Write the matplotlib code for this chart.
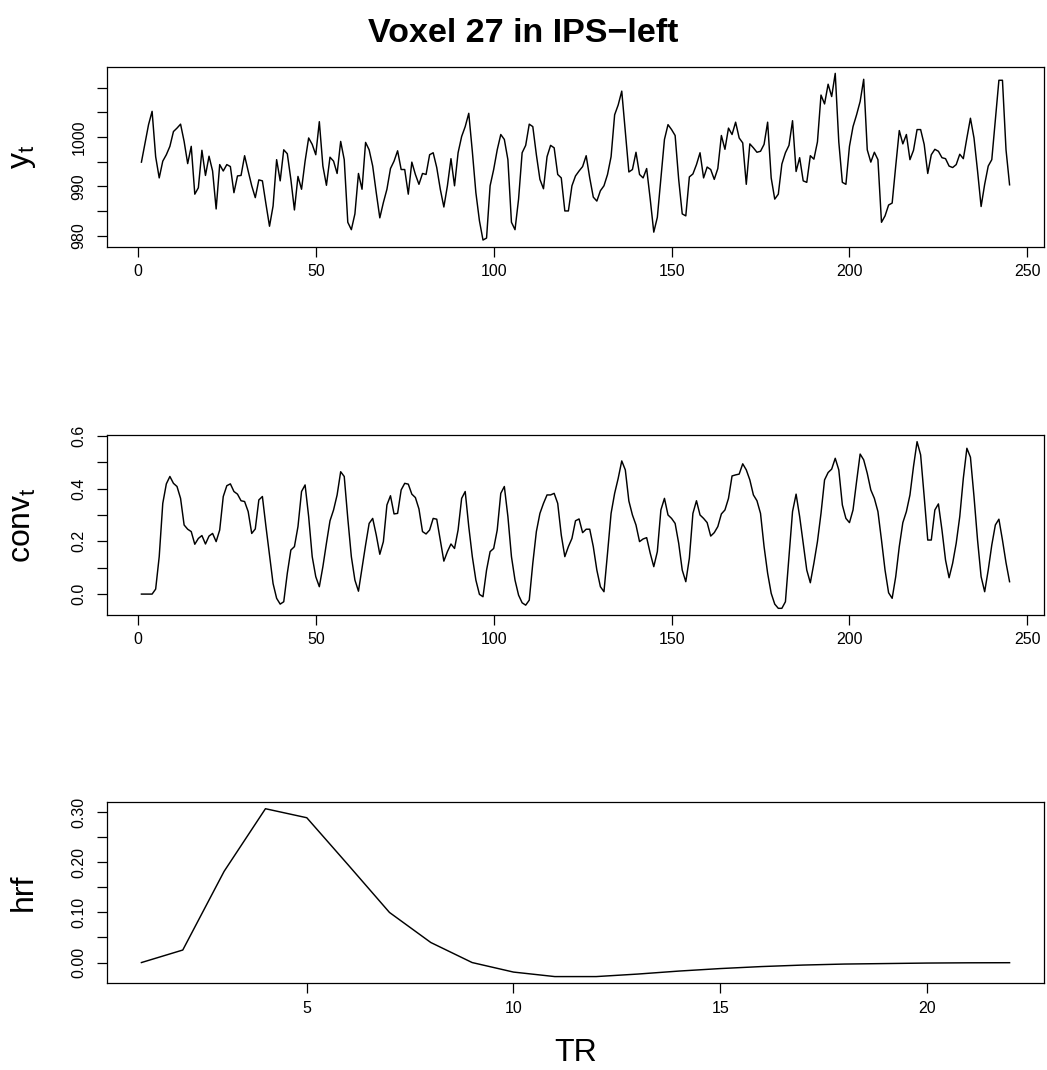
"""
Voxel time series panel: raw signal, convolved regressor and HRF.
"""

import matplotlib
matplotlib.use('Agg')
import matplotlib.pyplot as plt

plt.rcParams['font.family'] = ['Liberation Sans', 'DejaVu Sans']
plt.rcParams['mathtext.fontset'] = 'custom'
plt.rcParams['mathtext.rm'] = 'Liberation Sans'
plt.rcParams['mathtext.it'] = 'Liberation Sans'

# Raw BOLD signal of the voxel (245 TRs)
y_t = [
    994.9, 998.7, 1002.5, 1005.2, 996.0, 991.7, 995.1, 996.4, 998.1, 1001.1,
    1001.8, 1002.6, 999.1, 994.6, 998.1, 988.4, 989.7, 997.3, 992.2, 996.1,
    993.1, 985.4, 994.4, 993.1, 994.4, 994.0, 988.7, 992.1, 992.2, 996.2,
    993.1, 990.1, 987.7, 991.3, 991.1, 986.4, 981.9, 986.0, 995.4, 991.1,
    997.4, 996.6, 991.4, 985.2, 992.0, 989.4, 995.1, 999.8, 998.5, 996.4,
    1003.1, 994.1, 990.2, 995.9, 995.1, 992.6,
    999.1, 995.4, 982.7, 981.2, 984.4, 992.6, 989.4, 998.9, 997.4, 994.1,
    988.7, 983.6, 986.7, 989.4, 993.6, 995.1, 997.2, 993.4, 993.4, 988.4,
    994.9, 992.4, 990.4, 992.6, 992.4, 996.4, 996.8, 993.8, 989.4, 985.8,
    990.1, 995.6, 990.1, 996.8, 1000.1, 1002.1, 1004.8, 997.1, 988.7, 983.0,
    979.1, 979.5, 990.1, 993.4, 997.4, 1000.5, 999.5, 995.4, 982.7, 981.2,
    987.4, 996.8, 998.3, 1002.6, 1002.1, 996.4, 991.4, 989.5, 996.0, 998.3,
    997.8, 992.4, 991.7, 985.0, 985.0,
    990.1, 992.1, 993.1, 994.0, 996.2, 991.7, 987.8, 987.0, 989.1, 990.1,
    992.4, 996.0, 1004.5, 1006.5, 1009.3, 1001.1, 992.9, 993.4, 996.9, 992.4,
    991.7, 993.6, 987.4, 980.7, 983.7, 991.7, 999.5, 1002.5, 1001.5, 1000.3,
    991.4, 984.4, 984.0, 991.9, 992.5, 994.4, 996.8, 991.7, 993.9, 993.4,
    991.4, 993.6, 1000.3, 997.5, 1001.8, 1000.5, 1003.0, 999.8, 998.8, 990.4,
    998.6, 997.8, 996.9, 997.1, 998.5, 1003.0, 991.7, 987.4, 988.4, 994.5,
    996.8, 998.3, 1003.3, 993.0, 995.8,
    991.1, 990.8, 996.2, 995.5, 999.0, 1008.5, 1006.7, 1010.7, 1008.2, 1012.9,
    999.0, 990.8, 990.4, 998.1, 1002.1, 1004.5, 1007.2, 1011.7, 997.4, 994.9,
    996.9, 995.4, 982.7, 984.0, 986.2, 986.6, 994.1, 1001.3, 998.6, 1000.5,
    995.4, 997.3, 1001.5, 1001.5, 998.5, 992.6, 996.4, 997.5, 997.1, 995.8,
    995.6, 994.1, 993.8, 994.4, 996.5, 995.6, 999.8, 1003.8, 999.8, 993.1,
    985.9, 990.4, 994.1, 995.4, 1003.5, 1011.5, 1011.5, 997.4, 990.3,
]

# Stimulus regressor convolved with the HRF
conv_t = [
    0.0, 0.0, 0.0, 0.0, 0.019, 0.142, 0.344, 0.418, 0.446, 0.42,
    0.408, 0.363, 0.262, 0.246, 0.237, 0.189, 0.211, 0.222, 0.19, 0.22,
    0.23, 0.199, 0.243, 0.37, 0.411, 0.418, 0.389, 0.379, 0.354, 0.351,
    0.313, 0.23, 0.247, 0.357, 0.37, 0.256, 0.148, 0.04, -0.016, -0.038,
    -0.029, 0.079, 0.167, 0.18, 0.256, 0.389, 0.414, 0.294, 0.142, 0.066,
    0.028, 0.104, 0.193, 0.278, 0.319, 0.376, 0.464,
    0.446, 0.287, 0.142, 0.053, 0.011, 0.098, 0.186, 0.268, 0.287, 0.224,
    0.151, 0.199, 0.338, 0.373, 0.304, 0.306, 0.395, 0.42, 0.417, 0.379,
    0.366, 0.323, 0.237, 0.228, 0.243, 0.287, 0.284, 0.205, 0.125, 0.161,
    0.19, 0.173, 0.243, 0.363, 0.389, 0.256, 0.142, 0.053, -0.001, -0.01,
    0.091, 0.161, 0.173, 0.243, 0.382, 0.408, 0.294, 0.142, 0.053, -0.004,
    -0.033, -0.042, -0.023, 0.117, 0.237, 0.306, 0.344, 0.376, 0.376, 0.382,
    0.344, 0.224, 0.142, 0.18,
    0.211, 0.278, 0.285, 0.233, 0.246, 0.246, 0.18, 0.091, 0.028, 0.009,
    0.155, 0.306, 0.382, 0.439, 0.505, 0.471, 0.353, 0.3, 0.262, 0.199,
    0.209, 0.214, 0.155, 0.104, 0.161, 0.319, 0.363, 0.3, 0.287, 0.268,
    0.193, 0.091, 0.047, 0.136, 0.306, 0.354, 0.3, 0.287, 0.271, 0.22,
    0.233, 0.256, 0.304, 0.319, 0.363, 0.448, 0.452, 0.455, 0.494, 0.471,
    0.433, 0.376, 0.354, 0.306, 0.18, 0.079, 0.003, -0.038, -0.054, -0.054,
    -0.029, 0.142, 0.313, 0.379, 0.294,
    0.193, 0.091, 0.043, 0.117, 0.199, 0.306, 0.433, 0.461, 0.474, 0.515,
    0.471, 0.338, 0.287, 0.271, 0.319, 0.427, 0.531, 0.509, 0.458, 0.395,
    0.363, 0.313, 0.205, 0.091, 0.005, -0.016, 0.066, 0.18, 0.271, 0.313,
    0.376, 0.484, 0.578, 0.528, 0.37, 0.205, 0.205, 0.319, 0.342, 0.243,
    0.129, 0.062, 0.117, 0.193, 0.294, 0.439, 0.553, 0.519, 0.37, 0.205,
    0.066, 0.009, 0.091, 0.186, 0.262, 0.284, 0.205, 0.119, 0.047,
]

# Haemodynamic response function sampled per TR
hrf = [
    0.0, 0.025, 0.182, 0.307, 0.289, 0.195, 0.10, 0.04, 0.0, -0.019,
    -0.028, -0.028, -0.023, -0.017, -0.012, -0.008, -0.005, -0.003, -0.002,
    -0.001, -0.0005, -0.0003,
]

title = "Voxel 27 in IPS\u2212left"

W, H = 1047, 1070
fig = plt.figure(figsize=(W / 100, H / 100), dpi=100)


def px_axes(left, top, right, bottom):
    """Add axes given pixel edges of the plot box."""
    return fig.add_axes([left / W, 1 - bottom / H, (right - left) / W, (bottom - top) / H])


def style(ax, xticks, yticks, ylabels, ylabel):
    ax.margins(x=0.04, y=0.04)
    ax.set_xticks(xticks)
    ax.set_yticks(yticks)
    ax.set_yticklabels(ylabels)
    ax.tick_params(axis='both', direction='out', length=7.5, width=0.9,
                   labelsize=11.5, color='black')
    ax.tick_params(axis='x', pad=5)
    ax.tick_params(axis='y', pad=7, labelrotation=90)
    for lab in ax.get_yticklabels():
        lab.set_va('center')
    for sp in ax.spines.values():
        sp.set_linewidth(0.9)
    ax.set_ylabel(ylabel, fontsize=23)
    ax.yaxis.set_label_coords(-0.073, 0.5)


ax1 = px_axes(106.7, 66.7, 1044.3, 246.7)
t1 = list(range(1, len(y_t) + 1))
ax1.plot(t1, y_t, color='black', lw=1.05)
yt1 = [980, 985, 990, 995, 1000, 1005, 1010]
style(ax1, [0, 50, 100, 150, 200, 250], yt1,
      ['980', '', '990', '', '1000', '', ''], r'$\mathregular{y_t}$')

ax2 = px_axes(106.7, 435, 1044.3, 615)
t2 = list(range(1, len(conv_t) + 1))
ax2.plot(t2, conv_t, color='black', lw=1.05)
yt2 = [0.0, 0.1, 0.2, 0.3, 0.4, 0.5, 0.6]
style(ax2, [0, 50, 100, 150, 200, 250], yt2,
      ['0.0', '', '0.2', '', '0.4', '', '0.6'], r'$\mathregular{conv_t}$')

ax3 = px_axes(106.7, 802, 1044.3, 983.3)
t3 = list(range(1, len(hrf) + 1))
ax3.plot(t3, hrf, color='black', lw=1.05)
yt3 = [0.0, 0.05, 0.10, 0.15, 0.20, 0.25, 0.30]
style(ax3, [5, 10, 15, 20], yt3,
      ['0.00', '', '0.10', '', '0.20', '', '0.30'], 'hrf')
ax3.set_xlabel('TR', fontsize=23)
ax3.xaxis.set_label_coords(0.5, -0.30)

fig.suptitle(title, x=0.5, y=1 - 33 / H, va='center', fontsize=24.5,
             fontweight='bold')

plt.savefig('out.png', dpi=100)
plt.close()
